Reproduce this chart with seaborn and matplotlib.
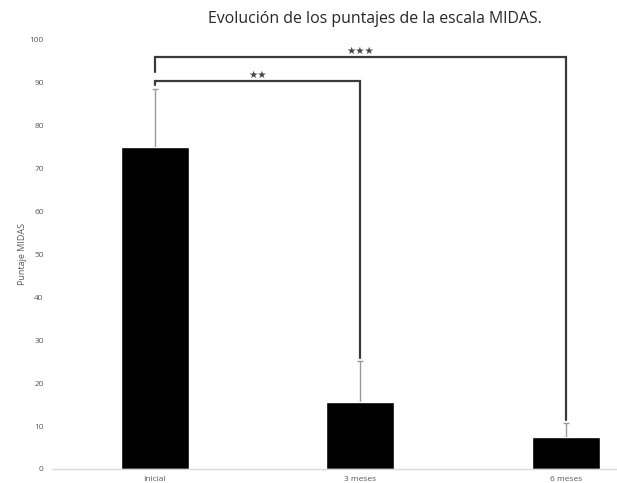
import matplotlib
matplotlib.use("Agg")
import matplotlib.pyplot as plt
import seaborn as sns
import pandas as pd

# Mean MIDAS scores and their standard deviation at each visit
categories = ["Inicial", "3 meses", "6 meses"]
means = [75.0, 15.6, 7.4]
sd = [13.5, 9.5, 3.3]
yticks = [0, 10, 20, 30, 40, 50, 60, 70, 80, 90, 100]

# Significance brackets: (left index, right index, height, label)
brackets = [(0, 1, 90.2, "★★"), (0, 2, 95.9, "★★★")]

df = pd.DataFrame({"visita": categories, "puntaje": means})

sns.set_theme(style="white")
plt.rcParams["font.family"] = ["Open Sans", "DejaVu Sans"]

fig = plt.figure(figsize=(6.17, 4.83), dpi=100)
ax = fig.add_axes([0.0843, 0.029, 0.916, 0.890])

sns.barplot(data=df, x="visita", y="puntaje", color="black", width=0.33,
            saturation=1, errorbar=None, ax=ax, zorder=2)

# Upper-only error bars
ax.errorbar(range(len(categories)), means, yerr=[[0] * len(sd), sd],
            fmt="none", ecolor="#9a9a9a", elinewidth=1.0, capsize=2.5,
            capthick=1.0, zorder=1)

tops = [m + s for m, s in zip(means, sd)]
for i, j, h, label in brackets:
    left_end = tops[i] + 0.8 if i == 0 and j == 1 else brackets[0][2] + 2.2
    right_end = tops[j] + 0.8
    ax.plot([i, i, j, j], [left_end, h, h, right_end], color="#3a3a3a",
            lw=1.6, solid_joinstyle="miter", zorder=3)
    ax.text((i + j) / 2, h + 0.3, label, ha="center", va="bottom",
            fontsize=7.5, color="#444444", family=["DejaVu Sans"])

ax.set_ylim(0, 100)
ax.set_xlim(-0.50, 2.25)
ax.set_yticks(yticks)
ax.set_yticklabels([str(t) for t in yticks], fontsize=6, color="#595959")
ax.tick_params(axis="y", length=0, pad=6)
ax.tick_params(axis="x", length=0, pad=5, labelsize=6, labelcolor="#595959")
ax.set_xlabel("")
ax.set_ylabel("Puntaje MIDAS", fontsize=6.5, color="#595959")
ax.yaxis.set_label_coords(-0.045, 0.5)

for side in ["top", "right", "left"]:
    ax.spines[side].set_visible(False)
ax.spines["bottom"].set_color("#d9d9d9")
ax.spines["bottom"].set_linewidth(1.0)
ax.grid(False)

fig.text(0.608, 0.960, "Evolución de los puntajes de la escala MIDAS.",
         ha="center", va="center", fontsize=11.4, color="#262626")

fig.savefig("out.png", dpi=100)
